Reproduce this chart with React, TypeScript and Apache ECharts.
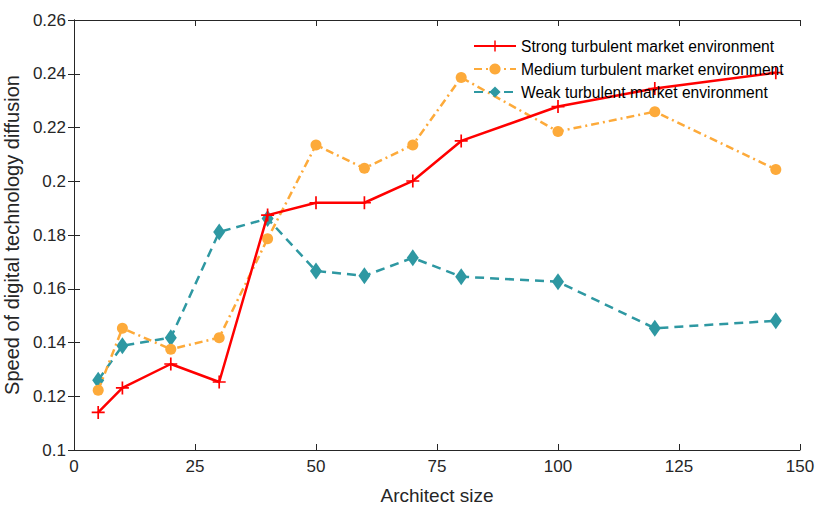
import React, { useEffect, useRef } from "react";
import * as echarts from "echarts";

const sizes = [5, 10, 20, 30, 40, 50, 60, 70, 80, 100, 120, 145];
const strong = [0.114, 0.1231, 0.132, 0.1253, 0.1874, 0.192, 0.192, 0.2001, 0.215, 0.2278, 0.2345, 0.2404];
const medium = [0.1222, 0.1453, 0.1375, 0.1418, 0.1786, 0.2135, 0.2048, 0.2135, 0.2386, 0.2185, 0.2259, 0.2044];
const weak = [0.126, 0.1388, 0.1418, 0.1811, 0.1861, 0.1666, 0.1648, 0.1715, 0.1645, 0.1626, 0.1453, 0.1481];
const seriesNames = [
  "Strong turbulent market environment",
  "Medium turbulent market environment",
  "Weak turbulent market environment",
];

const FONT = "'Liberation Sans', Arial, Helvetica, sans-serif";
const AX = "#262626";
const PLUS =
  "path://M-1,-0.13L-0.13,-0.13L-0.13,-1L0.13,-1L0.13,-0.13L1,-0.13L1,0.13L0.13,0.13L0.13,1L-0.13,1L-0.13,0.13L-1,0.13Z";

function pairs(ys: number[]) {
  return sizes.map((x, i) => [x, ys[i]]);
}

export default function App() {
  const ref = useRef<HTMLDivElement>(null);
  useEffect(() => {
    document.body.style.margin = "0";
    if (!ref.current) return;
    const chart = echarts.init(ref.current, undefined, { renderer: "svg" });
    const axisCommon = {
      axisLine: { show: true, lineStyle: { color: AX, width: 1 } },
      axisTick: { show: true, inside: true, length: 6, lineStyle: { color: AX } },
      splitLine: { show: false },
    };
    chart.setOption({
      animation: false,
      backgroundColor: "#ffffff",
      textStyle: { fontFamily: FONT },
      grid: { left: 74, right: 15, top: 20, bottom: 56, containLabel: false, outerBoundsMode: "none" },
      legend: {
        orient: "vertical",
        left: 473,
        top: 38,
        padding: 0,
        itemWidth: 42,
        itemHeight: 14,
        itemGap: 7,
        textStyle: { fontFamily: FONT, fontSize: 15.6, color: "#000000" },
        data: seriesNames,
      },
      xAxis: [
        {
          type: "value",
          min: 0,
          max: 150,
          interval: 25,
          name: "Architect size",
          nameLocation: "middle",
          nameGap: 36,
          nameTextStyle: { fontFamily: FONT, fontSize: 19, color: AX },
          axisLabel: { fontFamily: FONT, fontSize: 17, color: AX, margin: 8 },
          ...axisCommon,
        },
        {
          type: "value",
          position: "top",
          min: 0,
          max: 150,
          interval: 25,
          axisLabel: { show: false },
          ...axisCommon,
        },
      ],
      yAxis: [
        {
          type: "value",
          min: 0.1,
          max: 0.26,
          interval: 0.02,
          name: "Speed of digital technology diffusion",
          nameLocation: "middle",
          nameGap: 42,
          nameTextStyle: { fontFamily: FONT, fontSize: 20, color: AX },
          axisLabel: { fontFamily: FONT, fontSize: 17, color: AX, margin: 8 },
          ...axisCommon,
        },
        {
          type: "value",
          position: "right",
          min: 0.1,
          max: 0.26,
          interval: 0.02,
          axisLabel: { show: false },
          ...axisCommon,
        },
      ],
      series: [
        {
          name: seriesNames[0],
          type: "line",
          data: pairs(strong),
          symbol: PLUS,
          symbolSize: 13,
          color: "#ff0000",
          itemStyle: { color: "#ff0000" },
          lineStyle: { color: "#ff0000", width: 2.5, type: "solid" },
          z: 3,
        },
        {
          name: seriesNames[1],
          type: "line",
          data: pairs(medium),
          symbol: "circle",
          symbolSize: 11,
          color: "#fdaa3a",
          itemStyle: { color: "#fdaa3a" },
          lineStyle: { color: "#fdaa3a", width: 2.5, type: [8, 4, 2, 4] },
          z: 2,
        },
        {
          name: seriesNames[2],
          type: "line",
          data: pairs(weak),
          symbol: "diamond",
          symbolSize: [12, 17],
          color: "#2e98a2",
          itemStyle: { color: "#2e98a2" },
          lineStyle: { color: "#2e98a2", width: 2.5, type: [9, 6] },
          z: 1,
        },
      ],
    });
    return () => chart.dispose();
  }, []);
  return (
    <div
      ref={ref}
      style={{ position: "absolute", left: 0, top: 0, width: 815, height: 506 }}
    />
  );
}
